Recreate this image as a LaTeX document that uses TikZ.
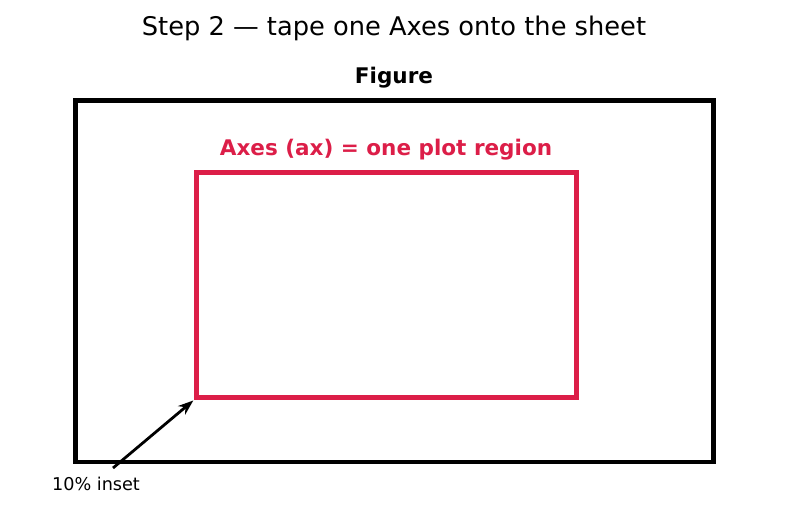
\documentclass[tikz,border=0pt]{standalone}
\usepackage{fontspec}
\setmainfont{DejaVu Sans}
\usetikzlibrary{arrows.meta, positioning}
\definecolor{axred}{RGB}{220,30,72}
\tikzset{
	block/.style={draw, line width=3.2pt, inner sep=0pt, outer sep=0pt},
	pointer/.style={-{Stealth[length=11pt, width=8pt]}, line width=2pt}
}

\begin{document}
\begin{tikzpicture}[x=0.72pt, y=-0.72pt]
		\useasboundingbox (0,0) rectangle (787,512);
		
		\node[font=\fontsize{18.5}{22}\selectfont] (title) at (394,28) {Step 2 — tape one Axes onto the sheet};
		
		\node[block, minimum width=459.2pt, minimum height=260.1pt] (sheet) at (394.4,281.1) {};
		\node[font=\fontsize{15.5}{18}\selectfont\bfseries] (figlabel) at (394,78) {Figure};
		
		\node[block, draw=axred, minimum width=273.6pt, minimum height=162pt] (axes) at (386.3,285) {};
		\node[font=\fontsize{15.5}{18}\selectfont\bfseries, text=axred] (axlabel) at (386,150) {Axes (ax) = one plot region};
		
		\node[font=\fontsize{12.7}{15}\selectfont] (inset) at (96,484) {10\% inset};
		\coordinate (tail) at (113,468);
		
		\draw[pointer] (tail) -- ([shift={(-3,3)}]axes.south west);
	\end{tikzpicture}
\end{document}
